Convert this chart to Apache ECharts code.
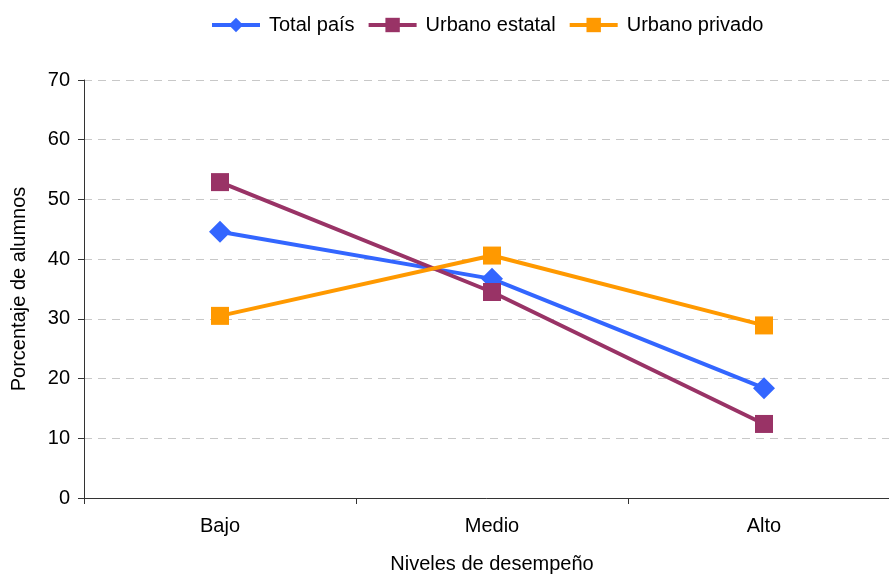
<!DOCTYPE html>
<html><head><meta charset="utf-8">
<script src="https://cdn.jsdelivr.net/npm/echarts@6/dist/echarts.min.js"></script>
<style>html,body{margin:0;padding:0;background:#fff}#c{width:889px;height:574px}</style>
</head><body><div id="c"></div>
<script>
const categories = ['Bajo', 'Medio', 'Alto'];
const totalPais = [44.6, 36.7, 18.4];
const urbanoEstatal = [52.9, 34.5, 12.4];
const urbanoPrivado = [30.5, 40.6, 28.9];
const yTicks = [0, 10, 20, 30, 40, 50, 60, 70];

const font = 'Liberation Sans, Arial, sans-serif';
const chart = echarts.init(document.getElementById('c'));
chart.setOption({
  animation: false,
  textStyle: { fontFamily: font },
  legend: {
    top: 10, left: 205, itemWidth: 48, itemHeight: 18, itemGap: 12,
    lineStyle: { width: 4 },
    textStyle: { fontSize: 20, color: '#000', fontFamily: font, padding: [0, 0, 0, 4] },
    data: ['Total país', 'Urbano estatal', 'Urbano privado']
  },
  grid: { left: 84, width: 816, top: 80, height: 418, containLabel: false, outerBoundsMode: 'none' },
  xAxis: {
    type: 'category', data: categories, boundaryGap: true,
    name: 'Niveles de desempeño', nameLocation: 'middle', nameGap: 56,
    nameTextStyle: { fontSize: 20, color: '#000', fontFamily: font },
    axisLine: { lineStyle: { color: '#333', width: 1 } },
    axisTick: { show: true, length: 6, lineStyle: { color: '#333' } },
    axisLabel: { fontSize: 20, color: '#000', margin: 18, fontFamily: font },
    splitLine: { show: false }
  },
  yAxis: {
    type: 'value', min: yTicks[0], max: yTicks[yTicks.length - 1], interval: 10,
    name: 'Porcentaje de alumnos', nameLocation: 'middle', nameGap: 55, nameRotate: 90,
    nameTextStyle: { fontSize: 20, color: '#000', fontFamily: font },
    axisLine: { show: true, lineStyle: { color: '#333', width: 1 } },
    axisTick: { show: true, length: 6, inside: false, lineStyle: { color: '#333' } },
    axisLabel: { fontSize: 20, color: '#000', margin: 14, fontFamily: font },
    splitLine: { show: true, lineStyle: { color: '#c8c8c8', type: [8, 6], width: 1 } }
  },
  series: [
    { name: 'Total país', type: 'line', data: totalPais, symbol: 'diamond', symbolSize: 22,
      lineStyle: { color: '#3366FF', width: 4 }, itemStyle: { color: '#3366FF' } },
    { name: 'Urbano estatal', type: 'line', data: urbanoEstatal, symbol: 'rect', symbolSize: 18,
      lineStyle: { color: '#993366', width: 4 }, itemStyle: { color: '#993366' } },
    { name: 'Urbano privado', type: 'line', data: urbanoPrivado, symbol: 'rect', symbolSize: 18,
      lineStyle: { color: '#FF9900', width: 4 }, itemStyle: { color: '#FF9900' } }
  ]
});
</script></body></html>
